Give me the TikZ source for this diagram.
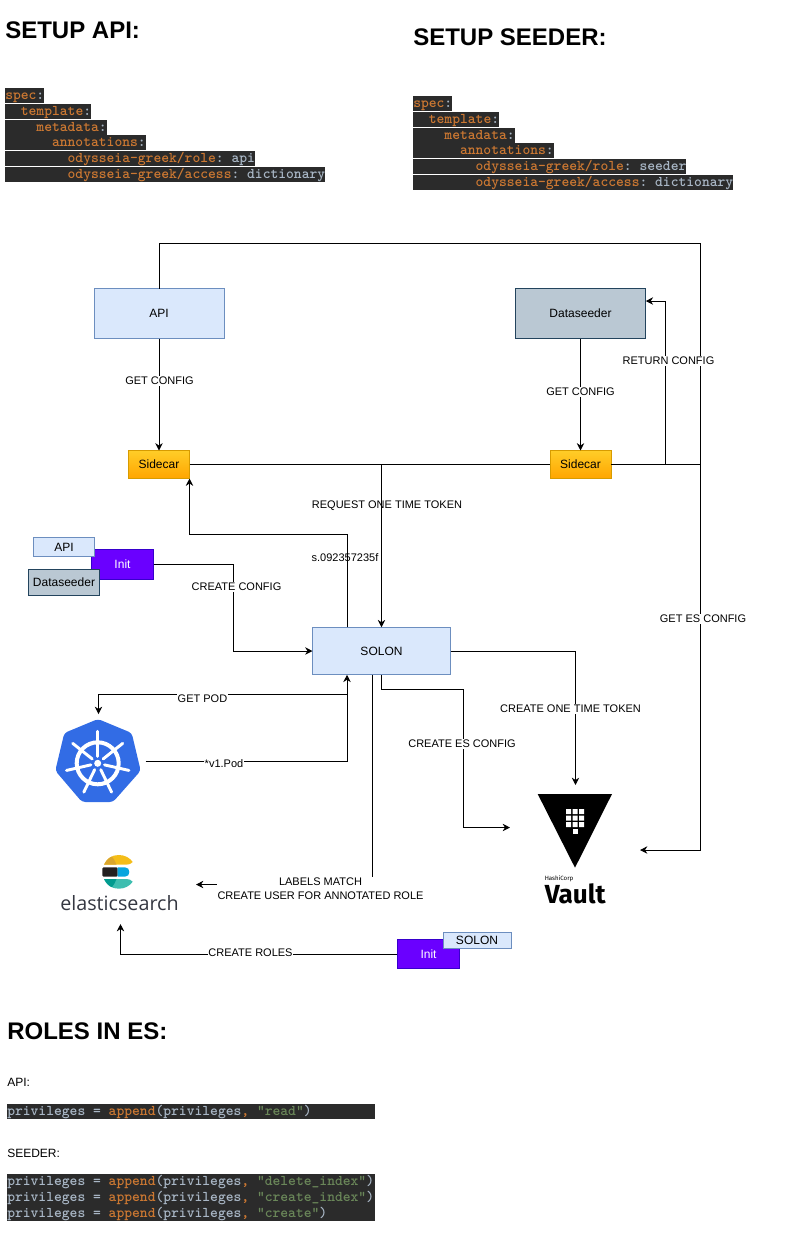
\documentclass[tikz,border=0pt]{standalone}
\usepackage{fontspec}
\setmainfont{Liberation Sans}
\newfontfamily\logofont{Open Sans}
\newfontfamily\vaultfont{Fira Sans}
\usetikzlibrary{arrows.meta}
\definecolor{codebg}{HTML}{2B2B2B}
\definecolor{codekw}{HTML}{CC7832}
\definecolor{codefg}{HTML}{A9B7C6}
\definecolor{codestr}{HTML}{6A8759}
\newcommand{\kw}[1]{\textcolor{codekw}{#1}}
\newcommand{\str}[1]{\textcolor{codestr}{#1}}
\newcommand{\pad}[1]{\hspace*{#1}}
\newcommand{\fullline}[1]{\makebox[276pt][l]{#1}}
\newcommand{\codefont}{\fontsize{11.15pt}{12pt}\ttfamily\bfseries\frenchspacing\spaceskip=5.854pt\relax}
\tikzset{
  size/.style 2 args={minimum width=#1*0.75pt, minimum height=#2*0.75pt, inner sep=0pt, outer sep=0pt},
  apibox/.style={draw=apiline, fill=apifill, line width=0.75pt, font=\fontsize{9pt}{11pt}\selectfont},
  seedbox/.style={draw=seedline, fill=seedfill, line width=0.75pt, font=\fontsize{9pt}{11pt}\selectfont},
  sidecarbox/.style={draw=sideline, top color=sidetop, bottom color=sidebot, line width=0.75pt, font=\fontsize{9pt}{11pt}\selectfont},
  initbox/.style={draw=initline, fill=initfill, text=white, line width=0.75pt, font=\fontsize{9pt}{11pt}\selectfont},
  elabel/.style={fill=white, inner sep=0.5pt, align=center, font=\fontsize{8.25pt}{10.5pt}\selectfont},
  plainlabel/.style={elabel, fill=none},
  heading/.style={anchor=base west, inner sep=0pt, font=\fontsize{18pt}{20pt}\selectfont\bfseries},
  smalltext/.style={anchor=base west, inner sep=0pt, font=\fontsize{9pt}{11pt}\selectfont},
  codebar/.style={anchor=north west, fill=codebg, text=codefg, inner sep=0pt, text height=8.25pt, text depth=3pt, font=\codefont},
  conn/.style={line width=0.75pt}
}
\definecolor{apifill}{HTML}{DAE8FC}
\definecolor{apiline}{HTML}{6C8EBF}
\definecolor{seedfill}{HTML}{BAC8D3}
\definecolor{seedline}{HTML}{23445D}
\definecolor{sidetop}{HTML}{FFCD28}
\definecolor{sidebot}{HTML}{FFA500}
\definecolor{sideline}{HTML}{D79B00}
\definecolor{initfill}{HTML}{6A00FF}
\definecolor{initline}{HTML}{3700CC}
\definecolor{kubeblue}{HTML}{326CE5}
\definecolor{esyellow}{HTML}{F4BD19}
\definecolor{esdarkyellow}{HTML}{D9A52C}
\definecolor{esblack}{HTML}{231F20}
\definecolor{esblue}{HTML}{07A5DE}
\definecolor{esteal}{HTML}{3EBEB0}
\definecolor{esdarkteal}{HTML}{019B8F}
\definecolor{esword}{HTML}{343741}
\begin{document}
\begin{tikzpicture}[x=0.75pt, y=-0.75pt, >={Stealth[length=5.5pt,width=5.5pt]}]
  \useasboundingbox (0,0) rectangle (801,1246);

  \node (titleapi) at (5,38) [heading] {SETUP API:};
  \node (titleseeder) at (413,45) [heading] {SETUP SEEDER:};
  \node (titleroles) at (7,1039) [heading] {ROLES IN ES:};

  \node (apispec) at (5,88) [codebar] {\kw{spec}:};
  \node (apitemplate) at (5,104) [codebar] {\pad{11.7pt}\kw{template}:};
  \node (apimeta) at (5,120) [codebar] {\pad{23.4pt}\kw{metadata}:};
  \node (apiannot) at (5,135) [codebar] {\pad{35.1pt}\kw{annotations}:};
  \node (apirole) at (5,151) [codebar] {\pad{46.8pt}\kw{odysseia-greek/role}: api};
  \node (apiaccess) at (5,167) [codebar] {\pad{46.8pt}\kw{odysseia-greek/access}: dictionary};

  \node (seedspec) at (413,96) [codebar] {\kw{spec}:};
  \node (seedtemplate) at (413,112) [codebar] {\pad{11.7pt}\kw{template}:};
  \node (seedmeta) at (413,128) [codebar] {\pad{23.4pt}\kw{metadata}:};
  \node (seedannot) at (413,143) [codebar] {\pad{35.1pt}\kw{annotations}:};
  \node (seedrole) at (413,159) [codebar] {\pad{46.8pt}\kw{odysseia-greek/role}: seeder};
  \node (seedaccess) at (413,175) [codebar] {\pad{46.8pt}\kw{odysseia-greek/access}: dictionary};

  \node (api) at (159,313.5) [apibox, size={130}{50}] {API};
  \node (seeder) at (580.5,313.5) [seedbox, size={130}{50}] {Dataseeder};
  \node (sidecarapi) at (159,464.5) [sidecarbox, size={61}{28}] {Sidecar};
  \node (sidecarseed) at (580.5,464.5) [sidecarbox, size={61}{28}] {Sidecar};
  \node (solon) at (381.5,651) [apibox, size={138}{47.5}] {SOLON};
  \node (initapi) at (122.5,564) [initbox, size={62}{30}] {Init};
  \node (smallapi) at (64,547) [apibox, size={61}{19}] {API};
  \node (smallseeder) at (64,582.5) [seedbox, size={71}{26}] {Dataseeder};
  \node (initsolon) at (428.5,954) [initbox, size={62.5}{29}] {Init};
  \node (smallsolon) at (477,940.5) [apibox, size={68}{16}] {SOLON};

  \coordinate (topcorner) at (700.5,243.5);
  \coordinate (vaultcorner) at (700.5,850);
  \coordinate (vaultright) at (640,850);
  \coordinate (esbranch) at (700.5,464.5);
  \coordinate (returnbranch) at (665.5,464.5);
  \coordinate (seederin) at (645.75,301);
  \coordinate (tokenbranch) at (381.5,464.5);
  \coordinate (tokenout) at (347,627.25);
  \coordinate (tokenbend) at (189.5,534.5);
  \coordinate (sidecarin) at (189.5,478.5);
  \coordinate (configbend) at (233,651);
  \coordinate (vaulttop) at (575.5,785);
  \coordinate (esconfigbend) at (463.5,689.5);
  \coordinate (vaultleft) at (510,827.5);
  \coordinate (podout) at (347,694.5);
  \coordinate (kubetop) at (98.5,714);
  \coordinate (kuberight) at (145.5,761.5);
  \coordinate (podin) at (347,674.75);
  \coordinate (userout) at (372.5,674.75);
  \coordinate (esright) at (196,884.5);
  \coordinate (esbottom) at (120.5,924);

  \draw [->, conn] (api.north) |- (topcorner) -- (vaultcorner) -- (vaultright);
  \draw [->, conn] (api) -- (sidecarapi);
  \draw [->, conn] (seeder) -- (sidecarseed);
  \draw [conn] (sidecarapi) -- (sidecarseed);
  \draw [conn] (sidecarseed) -- (esbranch);
  \draw [->, conn] (returnbranch) |- (seederin);
  \draw [->, conn] (tokenbranch) -- (solon.north);
  \draw [->, conn] (tokenout) |- (tokenbend) -- (sidecarin);
  \draw [->, conn] (initapi.east) -| (configbend) -- (solon.west);
  \draw [->, conn] (solon.east) -| (vaulttop);
  \draw [->, conn] (solon.south) |- (esconfigbend) |- (vaultleft);
  \draw [->, conn] (podout) -| (kubetop);
  \draw [->, conn] (kuberight) -| (podin);
  \draw [->, conn] (userout) |- (esright);
  \draw [->, conn] (initsolon.west) -| (esbottom);

  \node (getconfigapi) at (159.5,381) [elabel] {GET CONFIG};
  \node (getconfigseed) at (580.5,392) [elabel] {GET CONFIG};
  \node (returnconfig) at (668.5,361) [elabel] {RETURN CONFIG};
  \node (requesttoken) at (387,505.5) [plainlabel] {REQUEST ONE TIME TOKEN};
  \node (tokenvalue) at (345,558) [plainlabel] {s.092357235f};
  \node (createconfig) at (236.5,587) [elabel] {CREATE CONFIG};
  \node (getesconfig) at (703,619) [elabel] {GET ES CONFIG};
  \node (getpod) at (202.5,698.5) [elabel] {GET POD};
  \node (createtoken) at (570.5,709) [elabel] {CREATE ONE TIME TOKEN};
  \node (createes) at (462,744) [elabel] {CREATE ES CONFIG};
  \node (podvalue) at (224,763.5) [elabel] {*v1.Pod};
  \node (labelsmatch) at (320.5,889) [elabel] {LABELS MATCH\\CREATE USER FOR ANNOTATED ROLE};
  \node (createroles) at (250.5,953) [elabel] {CREATE ROLES};

  \fill [kubeblue, rounded corners=2.5] (98,719) -- (131.7,733) -- (140.7,770.7) -- (113,802) -- (82,802) -- (55.3,770.7) -- (64.3,733) -- cycle;
  \begin{scope}[shift={(97.7,763.3)}]
    \draw [white, line width=3pt] (0,0) circle [radius=21];
    \fill [white] (0,0) circle [radius=3.5];
    \foreach \spokeangle in {-90,-38.57,12.86,64.29,115.71,167.14,218.57}
      \draw [white, line width=2.2pt, line cap=round] (\spokeangle:7) -- (\spokeangle:32);
  \end{scope}

  \fill [esyellow] (104,864.7) .. controls (107,858) and (112,855) .. (119,855) .. controls (125,855) and (130,858) .. (132.7,862) .. controls (131,864) and (129,864.7) .. (126,864.7) -- cycle;
  \fill [esdarkyellow] (104,864.7) .. controls (106,860.5) and (109,857.5) .. (112,856.5) .. controls (114,859) and (115.5,862) .. (116.5,864.7) -- cycle;
  \fill [esblack, rounded corners=1] (102.3,867.3) rectangle (117.7,876.7);
  \fill [esblue] (117.7,867.3) -- (125,867.3) .. controls (128,867.3) and (129.3,869.5) .. (129.3,872) .. controls (129.3,874.5) and (128,876.7) .. (125,876.7) -- (117.7,876.7) -- cycle;
  \fill [esteal] (104,879) .. controls (107,885.7) and (112,888.7) .. (119,888.7) .. controls (125,888.7) and (130,885.7) .. (132.7,881.7) .. controls (131,879.7) and (129,879) .. (126,879) -- cycle;
  \fill [esdarkteal] (104,879) .. controls (106,883.2) and (109,886.2) .. (112,887.2) .. controls (114,884.7) and (115.5,881.7) .. (116.5,879) -- cycle;
  \node (eslogo) at (119.5,910) [anchor=base, inner sep=0pt, text=esword, font=\logofont\fontsize{14.8pt}{18pt}\selectfont] {elasticsearch};

  \fill [black] (537.7,794) -- (612,794) -- (575,867.7) -- cycle;
  \fill [white] (566,809) rectangle +(5,5) (572.5,809) rectangle +(5,5) (579,809) rectangle +(5,5);
  \fill [white] (566,815.5) rectangle +(5,5) (572.5,815.5) rectangle +(5,5) (579,815.5) rectangle +(5,5);
  \fill [white] (566,822) rectangle +(5,5) (572.5,822) rectangle +(5,5) (579,822) rectangle +(5,5);
  \fill [white] (572.5,828.5) rectangle +(5,5);
  \node (hashilogo) at (544.5,880.5) [anchor=base west, inner sep=0pt, font=\vaultfont\fontsize{4.6pt}{5pt}\selectfont] {HashiCorp};
  \node (vaultlogo) at (544.5,903) [anchor=base west, inner sep=0pt, font=\vaultfont\fontsize{19.6pt}{22pt}\selectfont\bfseries] {Vault};

  \node (apirolestitle) at (7,1086.7) [smalltext] {API:};
  \node (privread) at (7,1104) [codebar] {\fullline{privileges = \kw{append}(privileges\kw{,} \str{"read"})}};
  \node (seederrolestitle) at (7,1157.7) [smalltext] {SEEDER:};
  \node (privdelete) at (7,1174) [codebar, text depth=3.75pt] {\fullline{privileges = \kw{append}(privileges\kw{,} \str{"delete\_index"})}};
  \node (privindex) at (7,1190) [codebar, text depth=3.75pt] {\fullline{privileges = \kw{append}(privileges\kw{,} \str{"create\_index"})}};
  \node (privcreate) at (7,1206) [codebar] {\fullline{privileges = \kw{append}(privileges\kw{,} \str{"create"})}};
\end{tikzpicture}
\end{document}
